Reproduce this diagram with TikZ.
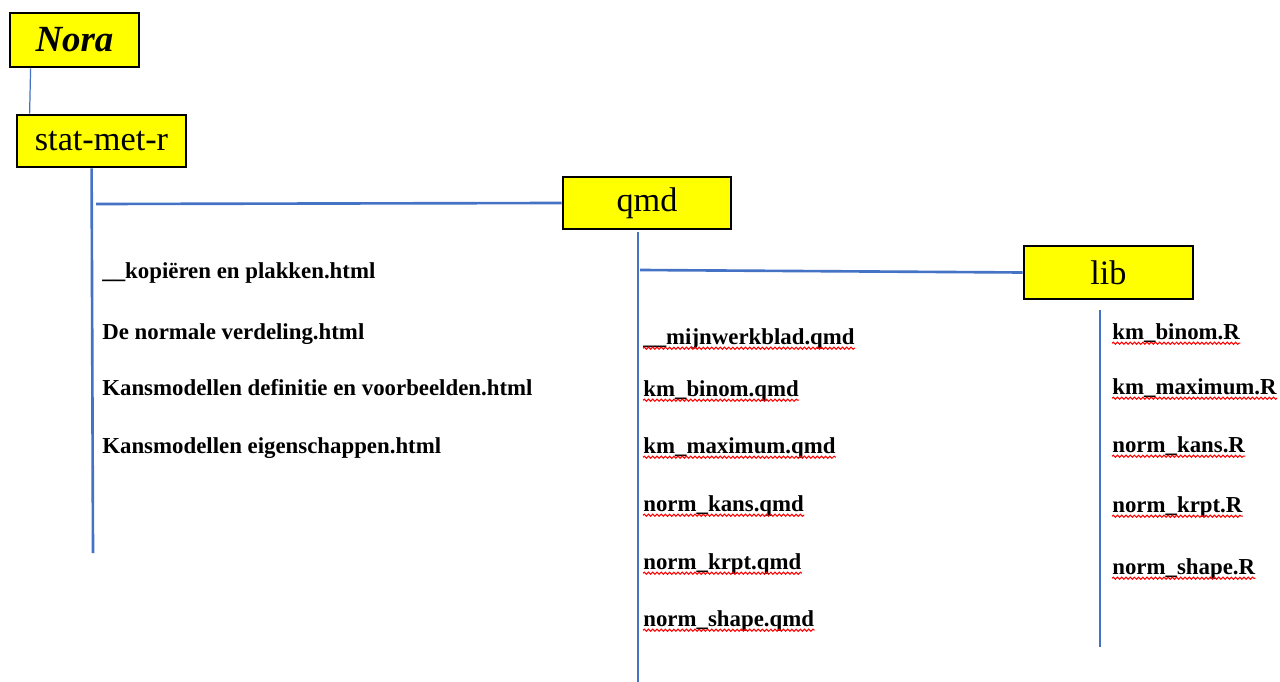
\documentclass[tikz,border=0pt]{standalone}
\usepackage{fontspec}
\setmainfont{Liberation Serif}
\usetikzlibrary{positioning,decorations.pathmorphing}
\definecolor{treeblue}{RGB}{68,114,196}
\definecolor{boxyellow}{RGB}{255,255,0}
\tikzset{
  folder/.style = {draw=black, line width=1.6pt, fill=boxyellow, minimum width=#1,
                   minimum height=1.04cm, inner sep=0pt, font=\fontsize{19.5}{22}\selectfont},
  branch/.style = {treeblue, line width=1.5pt},
  file/.style   = {anchor=base west, inner sep=0pt, font=\fontsize{13}{15}\selectfont\bfseries},
  typo/.style   = {red, line width=0.6pt, decorate,
                   decoration={snake, amplitude=0.6pt, segment length=2.4pt}}
}
\begin{document}
\begin{tikzpicture}[x=0.02cm, y=-0.02cm]
	\useasboundingbox (0,0) rectangle (1280,682);
	% the folders
	\node [folder=2.58cm, minimum height=1.08cm] (nora) at (74.5,40)
	      {\fontsize{21}{24}\selectfont\bfseries\itshape Nora};
	\node [folder=3.38cm] (stat) at (101.5,141) {stat-met-r};
	\node [folder=3.36cm] (qmd) at (647,203) {qmd};
	\node [folder=3.38cm, minimum height=1.06cm] (lib) at (1108.5,272.5) {lib};
	% the branches
	\draw [treeblue, line width=0.7pt] ([xshift=0.44cm]nora.south west) -- ([xshift=0.28cm]stat.north west);
	\coordinate (statend) at (93,553);
	\coordinate (statfork) at (96,204);
	\draw [branch] ([xshift=1.52cm]stat.south west) -- (statend);
	\draw [branch] (statfork) -- (qmd.west);
	\coordinate (qmdtop) at (638,232);
	\coordinate (qmdend) at (638,682);
	\coordinate (qmdfork) at (640,270);
	\draw [branch] (qmdtop) -- (qmdend);
	\draw [branch] (qmdfork) -- (lib.west);
	\coordinate (libtop) at (1100,310);
	\coordinate (libend) at (1100,647);
	\draw [branch] (libtop) -- (libend);
	% the files
	\foreach \y/\txt [count=\i] in {278/\_\_kopiëren en plakken.html, 339/De normale verdeling.html,
	                  395/Kansmodellen definitie en voorbeelden.html, 453/Kansmodellen eigenschappen.html}
	  \node [file] (html\i) at (102,\y) {\txt};
	\foreach \y/\txt [count=\i] in {344/\_\_mijnwerkblad.qmd, 396/km\_binom.qmd, 453/km\_maximum.qmd,
	                  511/norm\_kans.qmd, 569/norm\_krpt.qmd, 626/norm\_shape.qmd}
	{
	  \node [file] (q\i) at (643,\y) {\txt};
	  \draw [typo] ([yshift=-2.4pt]q\i.base west) -- ([yshift=-2.4pt]q\i.base east);
	}
	\foreach \y/\txt [count=\i] in {339/km\_binom.R, 394/km\_maximum.R, 452/norm\_kans.R,
	                  512/norm\_krpt.R, 574/norm\_shape.R}
	{
	  \node [file] (r\i) at (1112,\y) {\txt};
	  \draw [typo] ([yshift=-2.4pt]r\i.base west) -- ([yshift=-2.4pt]r\i.base east);
	}
\end{tikzpicture}
\end{document}
